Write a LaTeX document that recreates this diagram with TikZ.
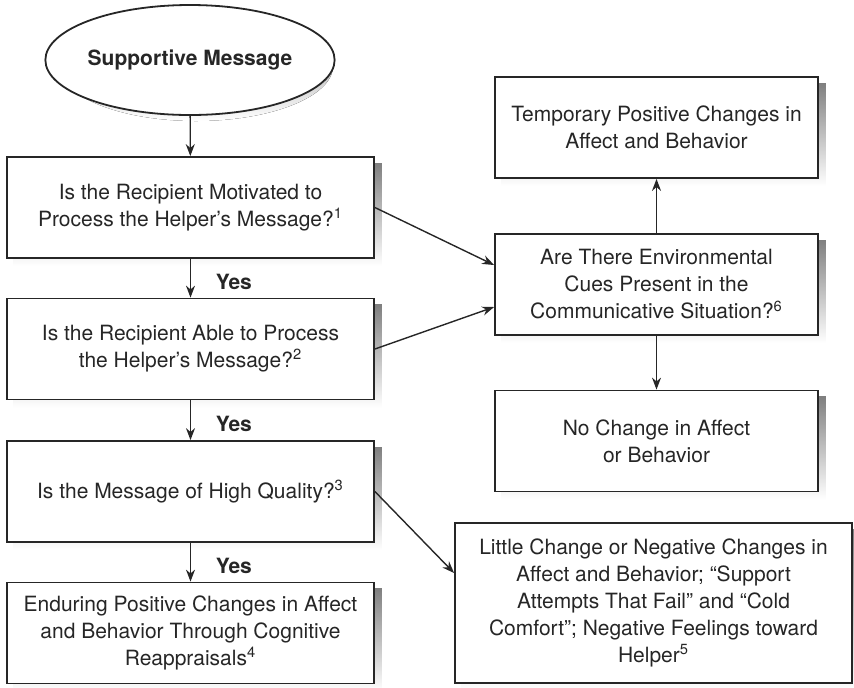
\documentclass[tikz,border=0pt]{standalone}
\usepackage{fontspec}
\setmainfont{TeX Gyre Heros}
\usepackage{tikz}
\usetikzlibrary{shapes.geometric,backgrounds,arrows.meta,calc}
\definecolor{ink}{HTML}{262626}
\definecolor{shade}{HTML}{D4D4D4}

\begin{document}
\begin{tikzpicture}[x=0.5pt,y=-0.5pt,
		box/.style={draw=ink, line width=0.9pt, fill=white, align=center, text=ink, inner sep=0pt,
			font=\fontsize{10.5}{13.5}\selectfont},
		leftbox/.style={box, minimum width=183.5pt, minimum height=50.5pt},
		rightbox/.style={box, minimum width=161.5pt, minimum height=50.5pt},
		flow/.style={draw=ink, line width=0.7pt, -{Stealth[length=6pt,width=4.5pt]}},
		yes/.style={font=\fontsize{10.5}{13.5}\selectfont\bfseries, text=ink, right=9pt, pos=0.6}]
				\useasboundingbox (0,0) rectangle (854,687);
				\node[box, ellipse, minimum width=137pt, minimum height=55pt, font=\fontsize{10.5}{13.5}\selectfont\bfseries] (msg) at (190,60) {Supportive Message};
				\node[leftbox] (motiv) at (190.5,207.5) {Is the Recipient Motivated to\\Process the Helper’s Message?\textsuperscript{1}};
				\node[leftbox] (able) at (190.5,349) {Is the Recipient Able to Process\\the Helper’s Message?\textsuperscript{2}};
				\node[leftbox] (quality) at (190.5,491.5) {Is the Message of High Quality?\textsuperscript{3}};
				\node[leftbox] (enduring) at (190.5,633) {Enduring Positive Changes in Affect\\and Behavior Through Cognitive\\Reappraisals\textsuperscript{4}};
				\node[rightbox] (temp) at (656.5,127.5) {Temporary Positive Changes in\\Affect and Behavior};
				\node[rightbox] (cues) at (656.5,284.5) {Are There Environmental\\Cues Present in the\\Communicative Situation?\textsuperscript{6}};
				\node[rightbox] (nochange) at (656.5,441) {No Change in Affect\\or Behavior};
				\node[box, minimum width=198.5pt, minimum height=80pt] (negative) at (653.5,603) {Little Change or Negative Changes in\\Affect and Behavior; “Support\\Attempts That Fail” and “Cold\\Comfort”; Negative Feelings toward\\Helper\textsuperscript{5}};
				\begin{scope}[on background layer]
					\foreach \n in {motiv,able,quality,enduring,temp,cues,nochange,negative}
						\fill[shade] ($(\n.south west)+(3.5pt,-3.5pt)$) rectangle ($(\n.north east)+(3.5pt,-3.5pt)$);
					\fill[shade] ($(msg.center)+(3pt,-3pt)$) ellipse [x radius=68.5pt, y radius=27.5pt];
				\end{scope}
				\draw[flow] (msg) -- (motiv);
				\draw[flow] (motiv) -- node[yes] {Yes} (able);
				\draw[flow] (able) -- node[yes] {Yes} (quality);
				\draw[flow] (quality) -- node[yes] {Yes} (enduring);
				\draw[flow] (motiv.east) -- ([yshift=9.75pt]cues.west);
				\draw[flow] (able.east) -- ([yshift=-11.25pt]cues.west);
				\draw[flow] (quality.east) -- ([yshift=15pt]negative.west);
				\draw[flow] (cues) -- (temp);
				\draw[flow] (cues) -- (nochange);
			\end{tikzpicture}
\end{document}
